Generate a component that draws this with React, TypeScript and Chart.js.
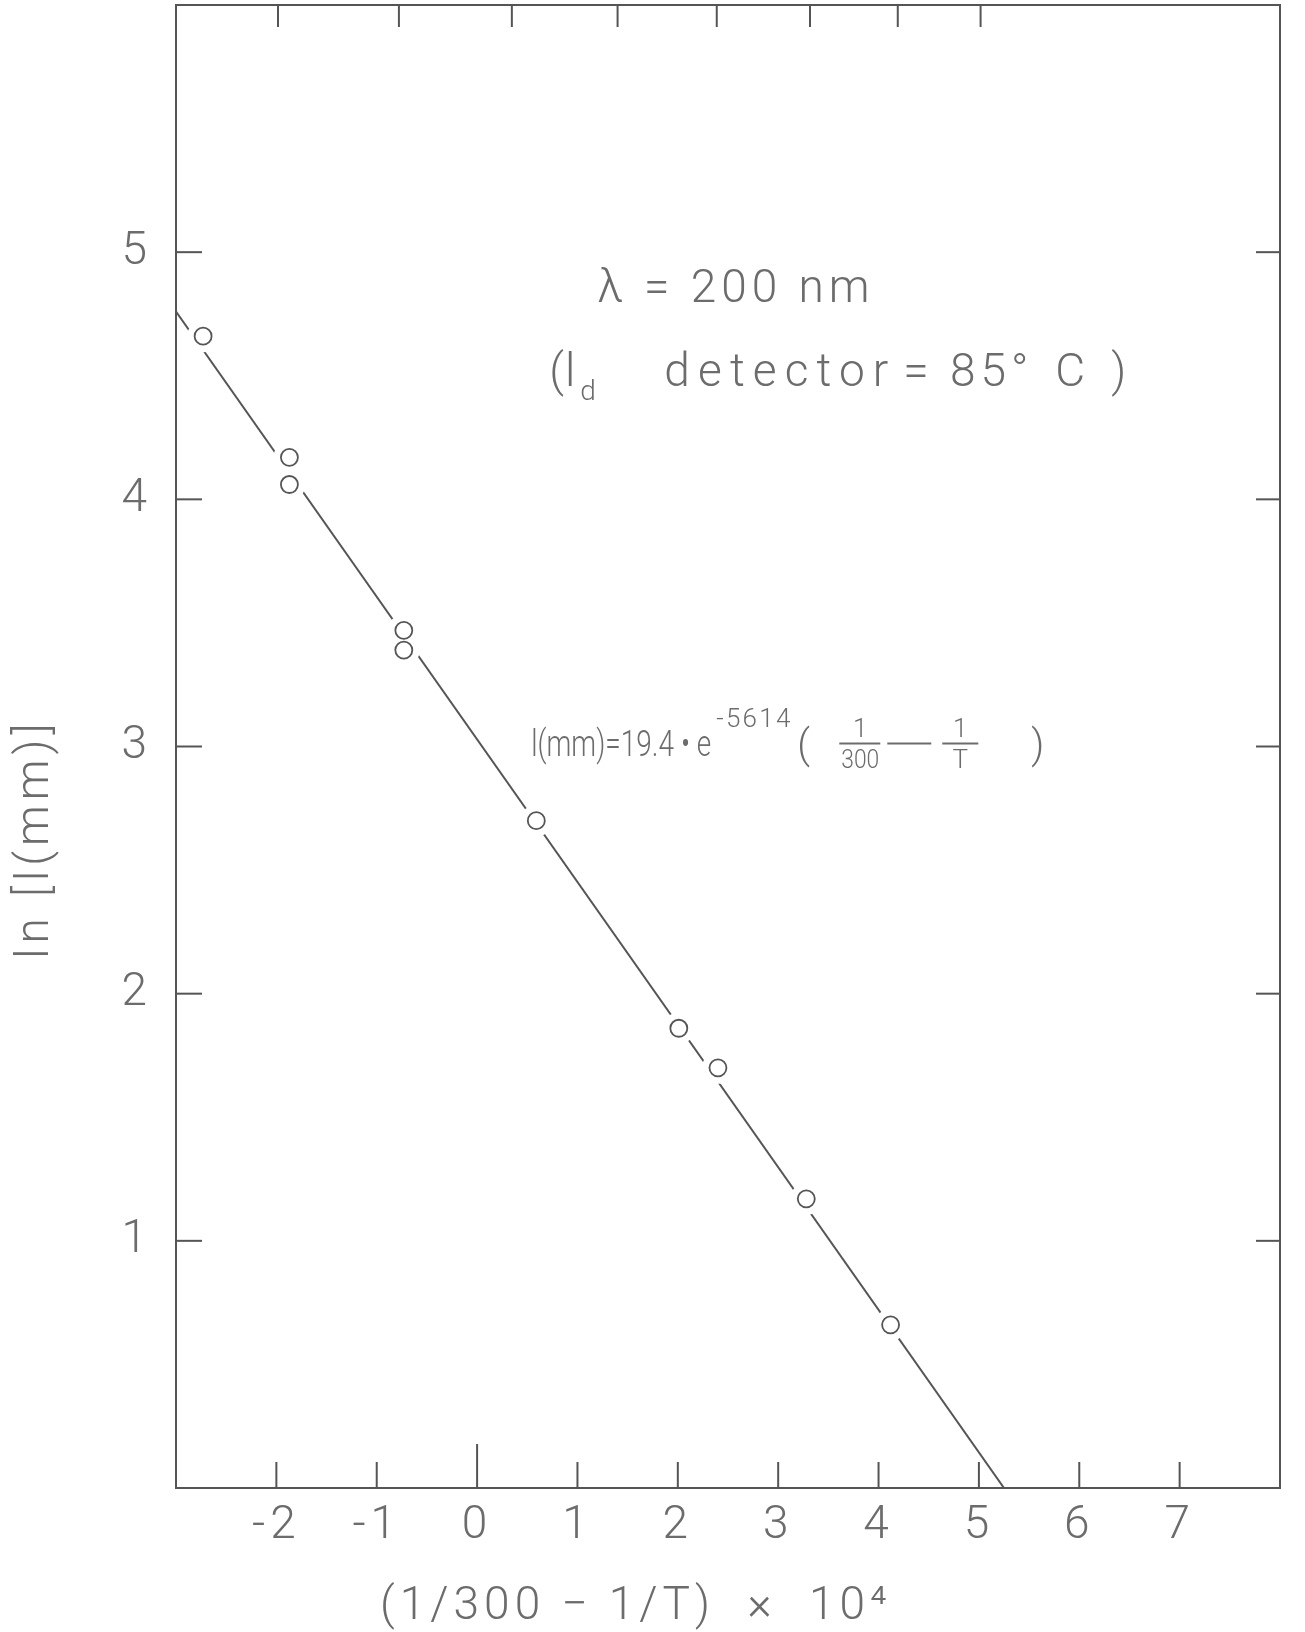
import React, { useEffect, useRef } from "react";
import { Chart, registerables } from "chart.js";

Chart.register(...registerables);

// ---- data ----
const recipTemp = [-2.73, -1.87, -1.87, -0.73, -0.73, 0.59, 2.01, 2.4, 3.28, 4.12];
const lnLength = [4.66, 4.17, 4.06, 3.47, 3.39, 2.7, 1.86, 1.7, 1.17, 0.66];
const fitRecipTemp = [-3, 5.25];
const fitLnLength = [4.76, 0];
const xTickValues = [-2, -1, 0, 1, 2, 3, 4, 5, 6, 7];
const yTickValues = [1, 2, 3, 4, 5];
const topTickCelsius = [10, 20, 30, 40, 50, 60, 70, 80];
const xRange = [-3, 8];
const yRange = [0, 6];

const INK = "#555555";
const TEXT = "#6c6c6c";
const FONT = "Roboto";

const celsiusToAxis = (c: number) => (1 / 300 - 1 / (c + 273.15)) * 1e4;

// draw text so that it spans a given width (condense or space out)
function fitText(ctx: CanvasRenderingContext2D, text: string, x: number, y: number, width: number) {
  const c = ctx as any;
  c.letterSpacing = "0px";
  const w = ctx.measureText(text).width;
  if (w > width) {
    ctx.save();
    ctx.translate(x, y);
    ctx.scale(width / w, 1);
    ctx.fillText(text, 0, 0);
    ctx.restore();
  } else {
    const extra = text.length > 1 ? (width - w) / (text.length - 1) : 0;
    c.letterSpacing = extra.toFixed(2) + "px";
    ctx.fillText(text, x, y);
    c.letterSpacing = "0px";
  }
}

const letterSpacing = {
  id: "letterSpacing",
  beforeDraw(chart: any) {
    (chart.ctx as any).letterSpacing = "5px";
  },
  afterDraw(chart: any) {
    (chart.ctx as any).letterSpacing = "0px";
  },
};

const inwardTicks = {
  id: "inwardTicks",
  beforeDatasetsDraw(chart: any) {
    const { ctx, chartArea, scales } = chart;
    const { left, right, top, bottom } = chartArea;
    ctx.save();
    ctx.strokeStyle = INK;
    ctx.lineWidth = 2;
    const seg = (x1: number, y1: number, x2: number, y2: number) => {
      ctx.beginPath();
      ctx.moveTo(x1, y1);
      ctx.lineTo(x2, y2);
      ctx.stroke();
    };
    scales.x.ticks.forEach((t: any) => {
      const px = scales.x.getPixelForValue(t.value);
      seg(px, bottom, px, bottom - (t.value === 0 ? 44 : 26));
    });
    scales.x2.ticks.forEach((t: any) => {
      const px = scales.x2.getPixelForValue(t.value);
      seg(px, top, px, top + 22);
    });
    scales.y.ticks.forEach((t: any) => {
      const py = scales.y.getPixelForValue(t.value);
      seg(left, py, left + 26, py);
    });
    scales.y2.ticks.forEach((t: any) => {
      const py = scales.y2.getPixelForValue(t.value);
      seg(right, py, right - 24, py);
    });
    ctx.restore();
  },
};

const annotations = {
  id: "annotations",
  afterDatasetsDraw(chart: any) {
    const { ctx, scales } = chart;
    const X = (v: number) => scales.x.getPixelForValue(v);
    const Y = (v: number) => scales.y.getPixelForValue(v);
    ctx.save();
    ctx.fillStyle = TEXT;
    ctx.strokeStyle = TEXT;
    ctx.textBaseline = "alphabetic";
    ctx.textAlign = "left";

    // line 1
    ctx.font = `300 46px ${FONT}`;
    fitText(ctx, "λ = 200 nm", X(1.2), Y(4.8), 272);

    // line 2
    const l2x = X(0.72);
    const l2y = Y(4.46);
    ctx.font = `300 46px ${FONT}`;
    fitText(ctx, "(l", l2x, l2y, 26);
    ctx.font = `300 28px ${FONT}`;
    ctx.fillText("d", l2x + 31, l2y + 14);
    ctx.font = `300 46px ${FONT}`;
    fitText(ctx, "detector", l2x + 115, l2y, 224);
    fitText(ctx, "= 85°", l2x + 354, l2y, 125);
    ctx.fillText("C", l2x + 506, l2y);
    ctx.fillText(")", l2x + 562, l2y);

    // formula
    const fx = X(0.54);
    const fy = Y(2.96);
    ctx.font = `300 36px ${FONT}`;
    fitText(ctx, "l(mm)=19.4 • e", fx, fy, 180);
    ctx.font = `300 26px ${FONT}`;
    fitText(ctx, "-5614", fx + 185, fy - 29, 74);
    ctx.font = `300 40px ${FONT}`;
    ctx.fillText("(", fx + 266, fy + 2);
    ctx.lineWidth = 2;
    const bar = (x1: number, x2: number, y: number) => {
      ctx.beginPath();
      ctx.moveTo(x1, y);
      ctx.lineTo(x2, y);
      ctx.stroke();
    };
    ctx.font = `300 26px ${FONT}`;
    ctx.textAlign = "center";
    ctx.fillText("1", fx + 329, fy - 19);
    bar(fx + 308, fx + 349, fy - 13);
    ctx.textAlign = "left";
    fitText(ctx, "300", fx + 310, fy + 12, 38);
    bar(fx + 356, fx + 400, fy - 13);
    ctx.textAlign = "center";
    ctx.fillText("1", fx + 429, fy - 19);
    bar(fx + 411, fx + 447, fy - 13);
    ctx.fillText("T", fx + 429, fy + 12);
    ctx.textAlign = "left";
    ctx.font = `300 40px ${FONT}`;
    ctx.fillText(")", fx + 500, fy + 2);
    ctx.restore();
  },
};

export default function App() {
  const canvasRef = useRef<HTMLCanvasElement | null>(null);

  useEffect(() => {
    const canvas = canvasRef.current;
    if (!canvas) return;
    const points = recipTemp.map((x, i) => ({ x, y: lnLength[i] }));
    const fitPoints = fitRecipTemp.map((x, i) => ({ x, y: fitLnLength[i] }));
    const tickFont = { family: FONT, size: 46, weight: "300" as any };

    const chart = new Chart(canvas, {
      type: "scatter",
      data: {
        datasets: [
          {
            type: "scatter",
            label: "measured",
            data: points,
            pointRadius: 8.5,
            pointBorderWidth: 1.8,
            pointBorderColor: INK,
            pointBackgroundColor: "rgba(255,255,255,0)",
            order: 0,
          },
          {
            type: "scatter",
            label: "gap",
            data: points,
            pointRadius: 16,
            pointBorderWidth: 0,
            pointBackgroundColor: "#ffffff",
            pointBorderColor: "#ffffff",
            order: 1,
          },
          {
            type: "line",
            label: "fit",
            data: fitPoints,
            borderColor: INK,
            borderWidth: 2,
            pointRadius: 0,
            fill: false,
            order: 2,
          } as any,
        ],
      },
      options: {
        animation: false,
        responsive: false,
        maintainAspectRatio: false,
        devicePixelRatio: 1,
        events: [],
        layout: { autoPadding: false, padding: { left: 0, right: 25, top: 5, bottom: 0 } },
        plugins: {
          legend: { display: false },
          tooltip: { enabled: false },
          title: { display: false },
        },
        scales: {
          x: {
            type: "linear",
            position: "bottom",
            min: xRange[0],
            max: xRange[1],
            afterBuildTicks: (s: any) => {
              s.ticks = xTickValues.map((v) => ({ value: v }));
            },
            afterFit: (s: any) => {
              s.height = 144;
              s.paddingLeft = 0;
              s.paddingRight = 0;
            },
            grid: { display: false, drawTicks: false },
            border: { display: true, color: INK, width: 2 },
            ticks: {
              padding: 11,
              color: TEXT,
              font: tickFont,
              maxRotation: 0,
              autoSkip: false,
            },
            title: {
              display: true,
              text: "(1/300 − 1/T)  ×  10⁴\u2003\u2003\u2003\u2002",
              color: TEXT,
              font: { family: FONT, size: 46, weight: "300" as any, lineHeight: 1 },
              padding: { top: 0, bottom: 2 },
            },
          },
          x2: {
            type: "linear",
            position: "top",
            min: xRange[0],
            max: xRange[1],
            afterBuildTicks: (s: any) => {
              s.ticks = topTickCelsius.map((c) => ({ value: celsiusToAxis(c) }));
            },
            afterFit: (s: any) => {
              s.height = 0;
              s.paddingLeft = 0;
              s.paddingRight = 0;
            },
            grid: { display: false, drawTicks: false },
            border: { display: true, color: INK, width: 2 },
            ticks: { display: false },
          },
          y: {
            type: "linear",
            position: "left",
            min: yRange[0],
            max: yRange[1],
            afterBuildTicks: (s: any) => {
              s.ticks = yTickValues.map((v) => ({ value: v }));
            },
            afterFit: (s: any) => {
              s.width = 176;
              s.paddingTop = 0;
              s.paddingBottom = 0;
            },
            grid: { display: false, drawTicks: false },
            border: { display: true, color: INK, width: 2 },
            ticks: { padding: 24, color: TEXT, font: tickFont, autoSkip: false },
            title: {
              display: true,
              text: "ln [l(mm)]\u2003\u2003\u2003\u2002",
              color: TEXT,
              font: { family: FONT, size: 46, weight: "300" as any, lineHeight: 1 },
              padding: { top: 13, bottom: 0 },
            },
          },
          y2: {
            type: "linear",
            position: "right",
            min: yRange[0],
            max: yRange[1],
            afterBuildTicks: (s: any) => {
              s.ticks = yTickValues.map((v) => ({ value: v }));
            },
            afterFit: (s: any) => {
              s.width = 0;
              s.paddingTop = 0;
              s.paddingBottom = 0;
            },
            grid: { display: false, drawTicks: false },
            border: { display: true, color: INK, width: 2 },
            ticks: { display: false },
          },
        },
      },
      plugins: [letterSpacing, inwardTicks, annotations],
    } as any);

    return () => chart.destroy();
  }, []);

  return (
    <div style={{ position: "absolute", left: 0, top: 0, width: 1305, height: 1632, background: "#fff" }}>
      <canvas ref={canvasRef} width={1305} height={1632} style={{ display: "block" }} />
    </div>
  );
}
